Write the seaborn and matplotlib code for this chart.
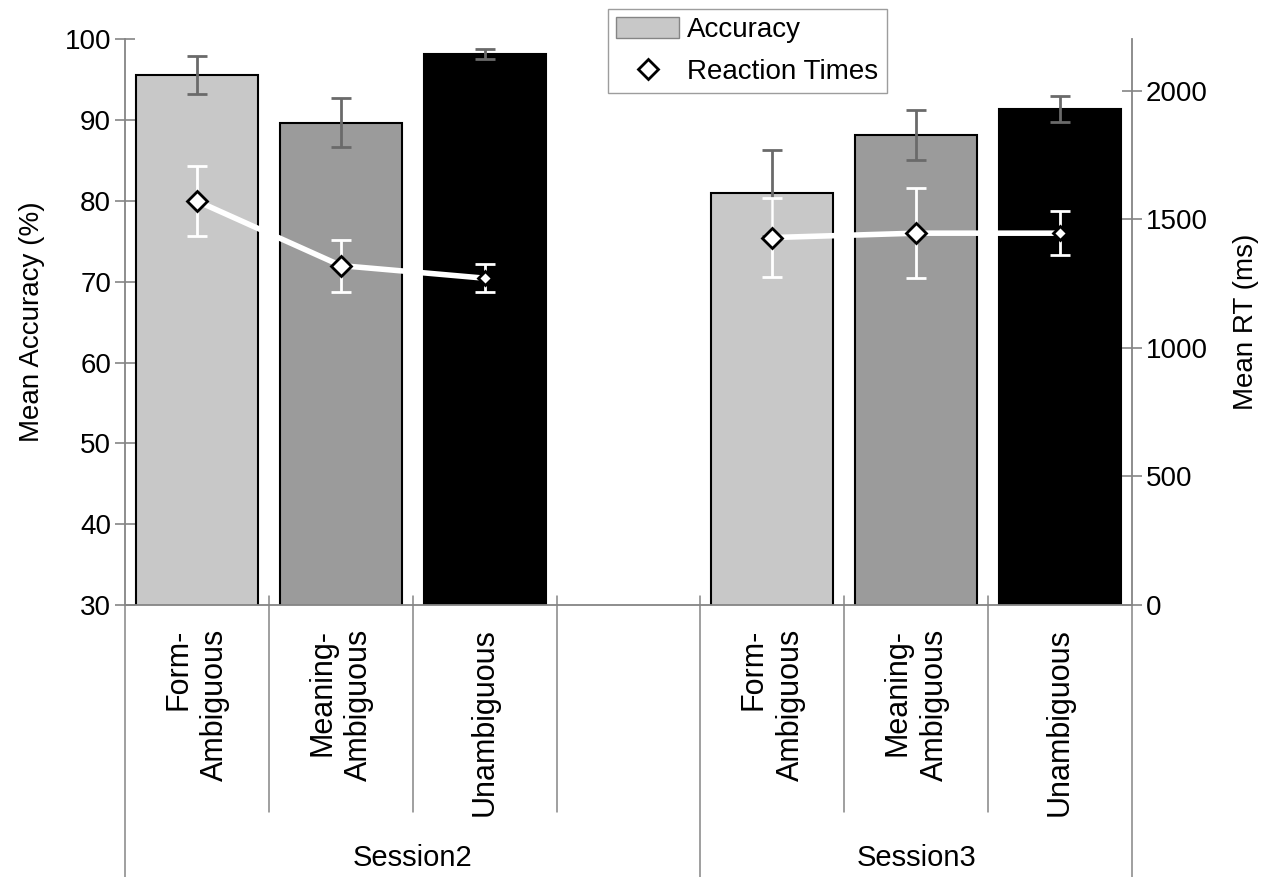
import numpy as np
import pandas as pd
import seaborn as sns
import matplotlib
matplotlib.use("Agg")
import matplotlib.pyplot as plt
import matplotlib.transforms as mtransforms
from matplotlib.lines import Line2D
from matplotlib.patches import Patch

# ---------------- data ----------------
sessions = ["Session2", "Session2", "Session2", "Session3", "Session3", "Session3"]
conditions = ["Form-\nAmbiguous", "Meaning-\nAmbiguous", "Unambiguous",
              "Form-\nAmbiguous", "Meaning-\nAmbiguous", "Unambiguous"]
accuracy = [95.6, 89.7, 98.2, 81.0, 88.2, 91.4]          # Mean accuracy (%)
accuracy_err = [2.35, 3.05, 0.6, 5.3, 3.1, 1.6]
rt = [1571, 1320, 1271, 1429, 1446, 1446]                # Mean RT (ms)
rt_err = [137, 101, 55, 153, 174, 85]
session_names = ["Session2", "Session3"]
left_ticks = [30, 40, 50, 60, 70, 80, 90, 100]
right_ticks = [0, 500, 1000, 1500, 2000]

# ---------------- style ----------------
sns.set_theme(style="white")
plt.rcParams["font.family"] = ["Liberation Sans", "DejaVu Sans"]
plt.rcParams["text.color"] = "black"
plt.rcParams["axes.labelcolor"] = "black"

palette = {"Form-\nAmbiguous": "#c8c8c8", "Meaning-\nAmbiguous": "#9b9b9b", "Unambiguous": "#000000"}
GRAY = "#858585"

df = pd.DataFrame({
    "session": sessions,
    "condition": conditions,
    "slot": [f"{s}|{c}" for s, c in zip(sessions, conditions)],
    "accuracy": accuracy,
    "acc_err": accuracy_err,
    "rt": rt,
    "rt_err": rt_err,
})

# slot order: session 2 conditions, an empty gap slot, session 3 conditions
order = []
for i, s in enumerate(session_names):
    if i > 0:
        order.append("gap")
    order += list(df.loc[df.session == s, "slot"])
slot_labels = ["" if o == "gap" else o.split("|", 1)[1] for o in order]
df["pos"] = [order.index(s) for s in df.slot]

fig = plt.figure(figsize=(12.66, 8.77), dpi=100)
ax = fig.add_axes([125 / 1266, 1 - 605 / 877, (1132 - 125) / 1266, (605 - 39.3) / 877])

sns.barplot(data=df, x="slot", y="accuracy", hue="condition", order=order,
            palette=palette, dodge=False, width=0.85, edgecolor="black",
            linewidth=1.5, errorbar=None, legend=False, ax=ax, zorder=2)
ax.errorbar(df.pos, df.accuracy, yerr=df.acc_err, fmt="none", ecolor="#6a6a6a",
            elinewidth=2, capsize=7, capthick=2, zorder=3)

ax.set_ylim(30, 100)
ax.set_xlim(-0.5, len(order) - 0.5)
ax.set_yticks(left_ticks)
ax.set_xticks(range(len(order)))
ax.set_xticklabels(slot_labels, rotation=90, ha="center", va="top",
                   multialignment="right", linespacing=1.3)
ax.set_xlabel("")
ax.set_ylabel("Mean Accuracy (%)", fontsize=20)
ax.yaxis.set_label_coords(-0.079, 0.5)
ax.tick_params(axis="y", direction="inout", length=14, width=1.2, color=GRAY,
               labelsize=20, pad=3, labelcolor="black")
ax.tick_params(axis="x", length=0, labelsize=22, pad=17, labelcolor="black")
for side in ["top", "right"]:
    ax.spines[side].set_visible(False)
for side in ["left", "bottom"]:
    ax.spines[side].set_color(GRAY)
    ax.spines[side].set_linewidth(1.3)

# ---------------- RT on twin axis ----------------
ax2 = ax.twinx()
ax2.set_ylim(0, 2200)
ax2.set_yticks(right_ticks)
sns.lineplot(data=df, x="pos", y="rt", hue="session",
             palette={s: "white" for s in session_names}, linewidth=4,
             legend=False, sort=False, estimator=None, ax=ax2, zorder=3)
ax2.errorbar(df.pos, df.rt, yerr=df.rt_err, fmt="none", ecolor="white",
             elinewidth=2, capsize=7, capthick=2, zorder=4)
marker_sizes = [10.5, 10.5, 7, 10.5, 10.5, 7]
for (x, y), ms in zip(zip(df.pos, df.rt), marker_sizes):
    ax2.plot([x], [y], marker="D", ms=ms, mfc="white", mec="black",
             mew=2, ls="none", zorder=5)
ax2.set_ylabel("Mean RT (ms)", fontsize=20)
ax2.yaxis.set_label_coords(1.1, 0.5)
ax2.tick_params(axis="y", direction="inout", length=14, width=1.2, color=GRAY,
                labelsize=20, pad=3, labelcolor="black")
for side in ["top", "left", "bottom"]:
    ax2.spines[side].set_visible(False)
ax2.spines["right"].set_color(GRAY)
ax2.spines["right"].set_linewidth(1.3)
ax2.set_xlabel("")

# ---------------- category separators and session labels ----------------
trans = mtransforms.blended_transform_factory(ax.transData, ax.transAxes)
gap_idx = [i for i, o in enumerate(order) if o == "gap"]
long_bounds = {-0.5, len(order) - 0.5} | {g + 0.5 for g in gap_idx}
for b in np.arange(len(order) + 1) - 0.5:
    if b in long_bounds:
        top = 0.0 if b in (-0.5, len(order) - 0.5) else 0.016
        ax.plot([b, b], [top, -0.481], transform=trans, color=GRAY, lw=1.1, clip_on=False)
    else:
        ax.plot([b, b], [0.016, -0.366], transform=trans, color=GRAY, lw=1.1, clip_on=False)

start = -0.5
for s in session_names:
    idx = [i for i, o in enumerate(order) if o.startswith(s + "|")]
    end = max(idx) + (1 if s == session_names[0] else 0) + 0.5
    ax.text((start + end) / 2, -0.448, s, transform=trans, ha="center",
            va="center", fontsize=21, color="black")
    start = end

# ---------------- legend ----------------
handles = [Patch(facecolor="#c8c8c8", edgecolor=GRAY, linewidth=1),
           Line2D([], [], marker="D", ls="none", mfc="white", mec="black", mew=2, ms=10.5)]
leg = fig.legend(handles, ["Accuracy", "Reaction Times"], loc="upper left",
                 bbox_to_anchor=(608 / 1266, 1 - 9 / 877), frameon=True,
                 fancybox=False, edgecolor=GRAY, fontsize=20, handlelength=2.25,
                 handleheight=0.75, borderpad=0.3, labelspacing=0.55,
                 handletextpad=0.3, borderaxespad=0)
leg.get_frame().set_linewidth(1)

fig.savefig("out.png", dpi=100)
